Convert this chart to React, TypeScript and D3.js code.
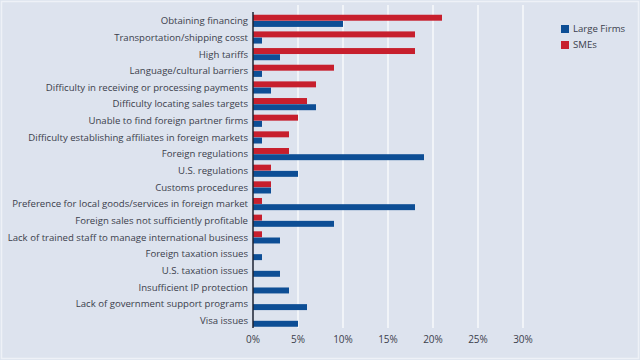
import React, { useEffect, useRef } from "react";
import * as d3 from "d3";

const categories = [
  "Obtaining financing",
  "Transportation/shipping cosst",
  "High tariffs",
  "Language/cultural barriers",
  "Difficulty in receiving or processing payments",
  "Difficulty locating sales targets",
  "Unable to find foreign partner firms",
  "Difficulty establishing affiliates in foreign markets",
  "Foreign regulations",
  "U.S. regulations",
  "Customs procedures",
  "Preference for local goods/services in foreign market",
  "Foreign sales not sufficiently profitable",
  "Lack of trained staff to manage international business",
  "Foreign taxation issues",
  "U.S. taxation issues",
  "Insufficient IP protection",
  "Lack of government support programs",
  "Visa issues",
];

const smes = [21, 18, 18, 9, 7, 6, 5, 4, 4, 2, 2, 1, 1, 1, 0, 0, 0, 0, 0];
const largeFirms = [10, 1, 3, 1, 2, 7, 1, 1, 19, 5, 2, 18, 9, 3, 1, 3, 4, 6, 5];

const xTicks = [0, 5, 10, 15, 20, 25, 30];

const series = [
  { key: "SMEs", values: smes, color: "#c71f2d" },
  { key: "Large Firms", values: largeFirms, color: "#0d4e95" },
];
const legendOrder = ["Large Firms", "SMEs"];

const App = () => {
  const ref = useRef<SVGSVGElement>(null);

  useEffect(() => {
    const width = 640;
    const height = 360;
    const svg = d3.select(ref.current);
    svg.selectAll("*").remove();
    svg.attr("width", width).attr("height", height);

    const font = "'Open Sans', sans-serif";
    const textColor = "#3b404c";

    // background + faint frame
    svg.append("rect")
      .attr("x", 0).attr("y", 0).attr("width", width).attr("height", height)
      .attr("fill", "#dde3ee");
    svg.append("rect")
      .attr("x", 1.5).attr("y", 1.5).attr("width", width - 3).attr("height", height - 3)
      .attr("fill", "none").attr("stroke", "#eef1f7").attr("stroke-width", 1.5);

    const x = d3.scaleLinear().domain([0, 30]).range([253, 523]);
    const y = d3.scaleBand().domain(categories).range([12.5, 329]).paddingInner(0.24).paddingOuter(0.12);
    const sub = d3.scaleBand().domain(series.map((s) => s.key)).range([0, y.bandwidth()]).padding(0.04);

    // gridlines
    svg.append("g")
      .selectAll("line")
      .data(xTicks.filter((t) => t > 0))
      .enter()
      .append("line")
      .attr("x1", (d) => x(d)).attr("x2", (d) => x(d))
      .attr("y1", 5).attr("y2", 328)
      .attr("stroke", "#ffffff").attr("stroke-width", 1.2);

    // bars
    series.forEach((s) => {
      svg.append("g")
        .selectAll("rect")
        .data(s.values)
        .enter()
        .append("rect")
        .attr("x", x(0))
        .attr("y", (d, i) => (y(categories[i]) as number) + (sub(s.key) as number))
        .attr("width", (d) => x(d) - x(0))
        .attr("height", sub.bandwidth())
        .attr("fill", s.color);
    });

    // y axis line
    svg.append("line")
      .attr("x1", x(0)).attr("x2", x(0))
      .attr("y1", 12).attr("y2", 328)
      .attr("stroke", "#1d2333").attr("stroke-width", 1.5);

    // category labels
    svg.append("g")
      .selectAll("text")
      .data(categories)
      .enter()
      .append("text")
      .attr("x", 248)
      .attr("y", (d) => (y(d) as number) + y.bandwidth() / 2)
      .attr("dy", "0.35em")
      .attr("text-anchor", "end")
      .style("font-family", font)
      .style("font-size", "9.6px")
      .style("fill", textColor)
      .text((d) => d);

    // x tick labels
    svg.append("g")
      .selectAll("text")
      .data(xTicks)
      .enter()
      .append("text")
      .attr("x", (d) => x(d))
      .attr("y", 339)
      .attr("dy", "0.35em")
      .attr("text-anchor", "middle")
      .style("font-family", font)
      .style("font-size", "10px")
      .style("fill", textColor)
      .text((d) => `${d}%`);

    // legend
    const legend = svg.append("g").attr("transform", "translate(561,25)");
    legendOrder.forEach((k, i) => {
      const s = series.find((ss) => ss.key === k)!;
      legend.append("rect")
        .attr("x", 0).attr("y", i * 16)
        .attr("width", 8).attr("height", 8)
        .attr("fill", s.color);
      legend.append("text")
        .attr("x", 12).attr("y", i * 16 + 4)
        .attr("dy", "0.35em")
        .style("font-family", font)
        .style("font-size", "9.6px")
        .style("fill", textColor)
        .text(k);
    });
  }, []);

  return (
    <div style={{ position: "absolute", left: 0, top: 0 }}>
      <svg ref={ref} style={{ display: "block" }}></svg>
    </div>
  );
};

export default App;
